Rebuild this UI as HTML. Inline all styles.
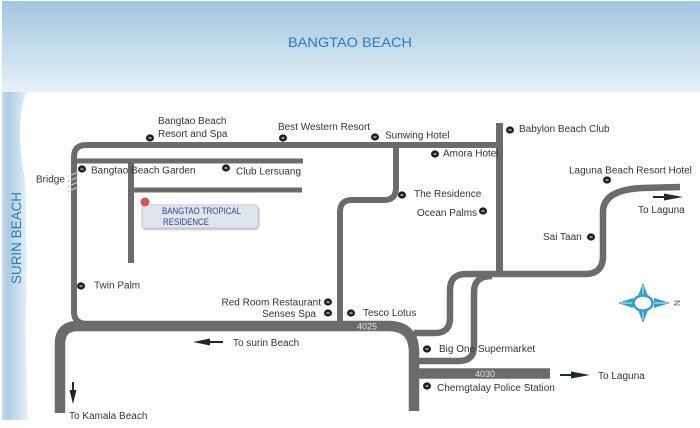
<!DOCTYPE html>
<html><head><meta charset="utf-8">
<style>
html,body{margin:0;padding:0;background:#fff;}
body{width:700px;height:428px;overflow:hidden;}
svg{display:block;}
text{font-family:"Liberation Sans",sans-serif;}
</style></head>
<body>
<svg width="700" height="428" viewBox="0 0 700 428" xmlns="http://www.w3.org/2000/svg">
<defs>
<linearGradient id="ban" x1="0" y1="0" x2="0" y2="1">
<stop offset="0" stop-color="#a2c5de"/>
<stop offset="1" stop-color="#e6f0f8"/>
</linearGradient>
<linearGradient id="strip" x1="0" y1="0" x2="1" y2="0">
<stop offset="0" stop-color="#c3daec"/>
<stop offset="0.25" stop-color="#adcbe2"/>
<stop offset="0.6" stop-color="#c9ddee"/>
<stop offset="1" stop-color="#e8f1f9"/>
</linearGradient>
<filter id="sh" x="-10%" y="-20%" width="120%" height="150%">
<feGaussianBlur in="SourceAlpha" stdDeviation="1"/>
<feOffset dx="0.5" dy="1" result="o"/>
<feComponentTransfer><feFuncA type="linear" slope="0.35"/></feComponentTransfer>
<feMerge><feMergeNode/><feMergeNode in="SourceGraphic"/></feMerge>
</filter>
</defs>

<!-- banner -->
<rect x="2" y="1" width="698" height="91" fill="url(#ban)"/>
<text x="350" y="47" text-anchor="middle" font-size="14" fill="#1f7fc4" textLength="124" lengthAdjust="spacingAndGlyphs">BANGTAO BEACH</text>

<!-- surin beach strip -->
<path d="M2 92 L27 92 C22 100 20 115 20 135 C20 160 26 175 26 200 C26 240 27 280 26 310 C25 340 27 380 28 420 L2 420 Z" fill="url(#strip)"/>
<text transform="translate(21,238) rotate(-90)" text-anchor="middle" font-size="13.5" fill="#1f7fc4" textLength="92" lengthAdjust="spacingAndGlyphs">SURIN BEACH</text>

<!-- roads -->
<g fill="none" stroke="#6b6b6c" stroke-linecap="butt" stroke-linejoin="round">
<path d="M502 145 L86 145 Q74 145 74 157 L74 312 Q74 324 88 324" stroke-width="6"/>
<path d="M74 161 L303 161" stroke-width="5"/>
<path d="M131 161 L131 263" stroke-width="6"/>
<path d="M131 190 L302 190" stroke-width="5"/>
<path d="M396 145 L396 188 Q396 200 384 200 L352 200 Q340 200 340 212 L340 326" stroke-width="6"/>
<path d="M499.5 123 L499.5 274" stroke-width="7"/>
<path d="M680 187 L642 188 Q603 190 603 212 L603 256 Q603 274 585 274 L466 274 Q450 274 450 290 L450 318 Q450 333 435 333 L414 333" stroke-width="6.5"/>
<path d="M492 276 Q474 276 474 292 L474 346 Q474 361 459 361 L414 361" stroke-width="6.5"/>
<path d="M60 413 L60 344 Q60 326 78 326 L388 326 Q414 326 414 352 L414 411" stroke-width="10.5"/>
<path d="M414 373.5 L550 373.5" stroke-width="10.5"/>
</g>

<!-- bridge hatches -->
<g stroke="#cfcfcf" stroke-width="1">
<line x1="67" y1="177" x2="78" y2="172"/>
<line x1="67" y1="182" x2="78" y2="177"/>
<line x1="67" y1="187" x2="78" y2="182"/>
<line x1="67" y1="192" x2="78" y2="187"/>
</g>

<!-- road numbers -->
<text x="357" y="329.5" font-size="9" fill="#e2e2e2">4025</text>
<text x="475" y="377" font-size="9" fill="#e2e2e2">4030</text>

<!-- property box -->
<rect x="142" y="205" width="116" height="23" rx="3" fill="#dfe5ec" stroke="#c9d0d9" stroke-width="1" filter="url(#sh)"/>
<circle cx="145" cy="202" r="4.5" fill="#d2555a"/>
<text x="162" y="214" font-size="9" fill="#3b3f8f" textLength="79" lengthAdjust="spacingAndGlyphs">BANGTAO TROPICAL</text>
<text x="163" y="225" font-size="9" fill="#3b3f8f" textLength="46" lengthAdjust="spacingAndGlyphs">RESIDENCE</text>

<!-- dots -->
<g>
<g fill="#1a1a1a">
<ellipse cx="150" cy="138" rx="4" ry="3.6"/>
<ellipse cx="283" cy="138" rx="4" ry="3.6"/>
<ellipse cx="375" cy="137" rx="4" ry="3.6"/>
<ellipse cx="510" cy="130" rx="4" ry="3.6"/>
<ellipse cx="435" cy="154" rx="4" ry="3.6"/>
<ellipse cx="82" cy="169" rx="4" ry="3.6"/>
<ellipse cx="226" cy="168" rx="4" ry="3.6"/>
<ellipse cx="402" cy="195" rx="4" ry="3.6"/>
<ellipse cx="483" cy="211" rx="4" ry="3.6"/>
<ellipse cx="607" cy="180" rx="4" ry="3.6"/>
<ellipse cx="591" cy="237" rx="4" ry="3.6"/>
<ellipse cx="81" cy="286" rx="4" ry="3.6"/>
<ellipse cx="328" cy="302" rx="4" ry="3.6"/>
<ellipse cx="328" cy="313" rx="4" ry="3.6"/>
<ellipse cx="351" cy="313" rx="4" ry="3.6"/>
<ellipse cx="427" cy="349" rx="4" ry="3.6"/>
<ellipse cx="427" cy="386" rx="4" ry="3.6"/>
</g>
<g fill="#8a8a8a">
<ellipse cx="150" cy="138" rx="1.8" ry="1.3"/>
<ellipse cx="283" cy="138" rx="1.8" ry="1.3"/>
<ellipse cx="375" cy="137" rx="1.8" ry="1.3"/>
<ellipse cx="510" cy="130" rx="1.8" ry="1.3"/>
<ellipse cx="435" cy="154" rx="1.8" ry="1.3"/>
<ellipse cx="82" cy="169" rx="1.8" ry="1.3"/>
<ellipse cx="226" cy="168" rx="1.8" ry="1.3"/>
<ellipse cx="402" cy="195" rx="1.8" ry="1.3"/>
<ellipse cx="483" cy="211" rx="1.8" ry="1.3"/>
<ellipse cx="607" cy="180" rx="1.8" ry="1.3"/>
<ellipse cx="591" cy="237" rx="1.8" ry="1.3"/>
<ellipse cx="81" cy="286" rx="1.8" ry="1.3"/>
<ellipse cx="328" cy="302" rx="1.8" ry="1.3"/>
<ellipse cx="328" cy="313" rx="1.8" ry="1.3"/>
<ellipse cx="351" cy="313" rx="1.8" ry="1.3"/>
<ellipse cx="427" cy="349" rx="1.8" ry="1.3"/>
<ellipse cx="427" cy="386" rx="1.8" ry="1.3"/>
</g>
</g>

<!-- labels -->
<g font-size="10" fill="#333">
<text x="158" y="124">Bangtao Beach</text>
<text x="158" y="137">Resort and Spa</text>
<text x="278" y="130">Best Western Resort</text>
<text x="385" y="138.5">Sunwing Hotel</text>
<text x="519" y="132">Babylon Beach Club</text>
<text x="443" y="156.5">Amora Hotel</text>
<text x="569" y="173.5">Laguna Beach Resort Hotel</text>
<text x="414" y="197">The Residence</text>
<text x="417" y="216">Ocean Palms</text>
<text x="638" y="213">To Laguna</text>
<text x="91" y="173.5">Bangtao Beach Garden</text>
<text x="236" y="174.5">Club Lersuang</text>
<text x="36" y="182.5">Bridge</text>
<text x="543" y="240">Sai Taan</text>
<text x="94" y="288.5">Twin Palm</text>
<text x="321" y="305.5" text-anchor="end">Red Room Restaurant</text>
<text x="316" y="317" text-anchor="end">Senses Spa</text>
<text x="363" y="316">Tesco Lotus</text>
<text x="233" y="346">To surin Beach</text>
<text x="69" y="419">To Kamala Beach</text>
<text x="439" y="352">Big One Supermarket</text>
<text x="437" y="391">Cherngtalay Police Station</text>
<text x="598" y="379">To Laguna</text>
</g>

<!-- arrows -->
<g fill="#1f2a28" stroke="#1f2a28">
<line x1="209" y1="342" x2="223" y2="342" stroke-width="2"/>
<polygon points="193,342 210,338.5 210,345.5" stroke="none"/>
<line x1="73" y1="382" x2="73" y2="391" stroke-width="2"/>
<polygon points="73,404 69.5,390 76.5,390" stroke="none"/>
<line x1="560" y1="375" x2="572" y2="375" stroke-width="2"/>
<polygon points="590,375 571,371.5 571,378.5" stroke="none"/>
<line x1="653" y1="197" x2="665" y2="197" stroke-width="2"/>
<polygon points="683,197 664,193.5 664,200.5" stroke="none"/>
</g>

<!-- compass -->
<g fill="#2aa0d4">
<polygon points="643,283 648,296 638,296"/>
<polygon points="643,323 648,310 638,310"/>
<polygon points="618,303 633,298 633,308"/>
<polygon points="670,303 654,298 654,308"/>
</g>
<g stroke="#ffffff" stroke-width="0.8">
<line x1="643" y1="286" x2="643" y2="296"/>
<line x1="643" y1="310" x2="643" y2="320"/>
<line x1="621" y1="303" x2="633" y2="303"/>
<line x1="654" y1="303" x2="667" y2="303"/>
</g>
<ellipse cx="643" cy="303" rx="9.5" ry="7.5" fill="#fff" stroke="#2aa0d4" stroke-width="2.5"/>
<text transform="translate(674,303) rotate(90)" text-anchor="middle" font-size="8" fill="#444">N</text>
</svg>
</body></html>
